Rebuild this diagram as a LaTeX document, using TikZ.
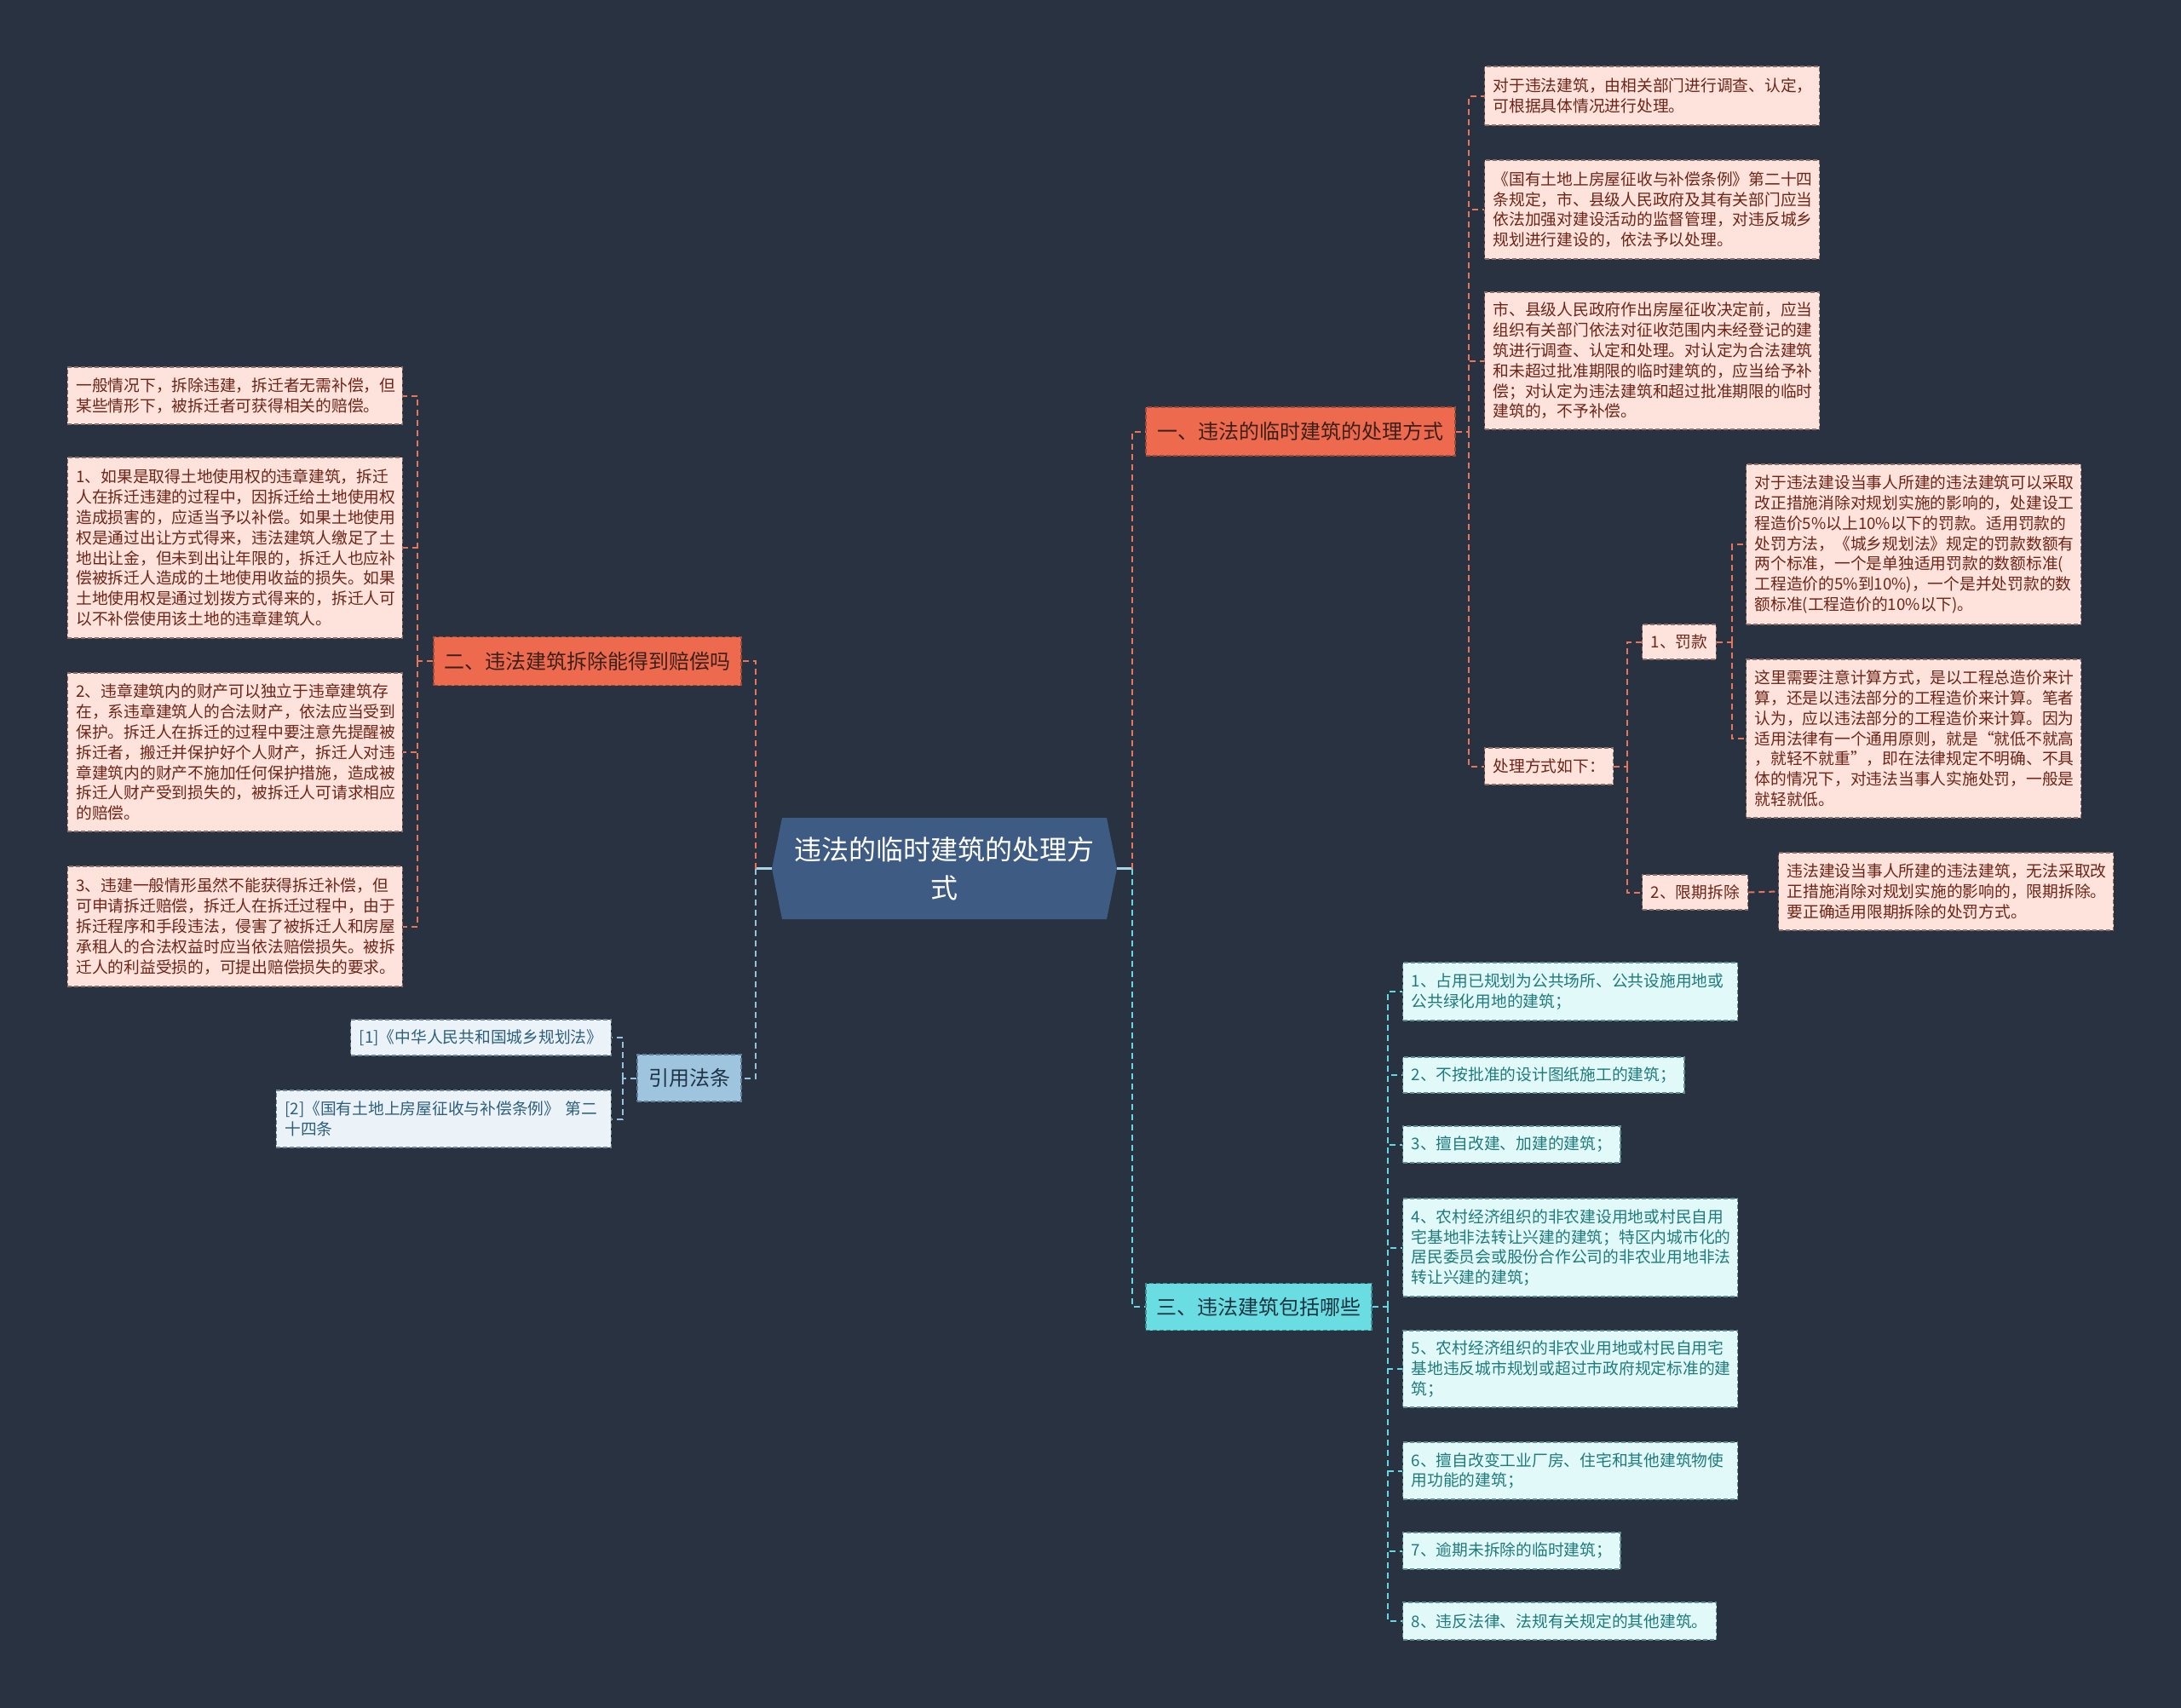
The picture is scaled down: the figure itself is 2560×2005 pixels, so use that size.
\documentclass[tikz,border=0pt]{standalone}
\usepackage{fontspec}
\setmainfont{Noto Sans CJK SC}
\definecolor{bg}{HTML}{293240}
\definecolor{rootfill}{HTML}{3E5B84}
\definecolor{brO}{HTML}{EE6A4E}
\definecolor{brOtext}{HTML}{3B2019}
\definecolor{brOdraw}{HTML}{9A4A36}
\definecolor{brC}{HTML}{6ADDE3}
\definecolor{brCtext}{HTML}{1E3440}
\definecolor{brCdraw}{HTML}{3E8E95}
\definecolor{brB}{HTML}{9EC4DE}
\definecolor{brBtext}{HTML}{1F3447}
\definecolor{brBdraw}{HTML}{5F7F96}
\definecolor{lfO}{HTML}{FDE3DB}
\definecolor{lfOtext}{HTML}{6E2418}
\definecolor{lfOdraw}{HTML}{8C6F68}
\definecolor{lfC}{HTML}{E2F9FA}
\definecolor{lfCtext}{HTML}{1F7A7B}
\definecolor{lfCdraw}{HTML}{5F8F92}
\definecolor{lfB}{HTML}{EBF3F8}
\definecolor{lfBtext}{HTML}{2D5F7D}
\definecolor{lfBdraw}{HTML}{6F8797}
\definecolor{lnO}{HTML}{E8745A}
\definecolor{lnC}{HTML}{64D7E1}
\definecolor{lnB}{HTML}{96C3DC}
\definecolor{lnRoot}{HTML}{A9D3E6}
\begin{document}
\begin{tikzpicture}[x=1pt,y=-1pt,
  base/.style={font=\fontsize{18.75pt}{23.8pt}\selectfont, inner xsep=10pt, inner ysep=10pt, align=left, line width=1.2pt, dash pattern=on 5pt off 3pt},
  wrap/.style={text width=373pt},
  leafO/.style={base, fill=lfO, draw=lfOdraw, text=lfOtext},
  leafC/.style={base, fill=lfC, draw=lfCdraw, text=lfCtext},
  leafB/.style={base, fill=lfB, draw=lfBdraw, text=lfBtext},
  brbase/.style={font=\fontsize{24pt}{30pt}\selectfont, inner xsep=12pt, inner ysep=8pt, align=center, line width=1.2pt, dash pattern=on 5pt off 3pt},
  branchO/.style={brbase, fill=brO, draw=brOdraw, text=brOtext},
  branchC/.style={brbase, fill=brC, draw=brCdraw, text=brCtext},
  branchB/.style={brbase, fill=brB, draw=brBdraw, text=brBtext},
  roottext/.style={font=\fontsize{32pt}{45pt}\selectfont, text=white, align=center, inner sep=0pt, minimum width=405pt, minimum height=119pt},
  conbase/.style={line width=2pt, dash pattern=on 7pt off 5pt},
  conO/.style={conbase, draw=lnO},
  conC/.style={conbase, draw=lnC},
  conB/.style={conbase, draw=lnB},
  rootlink/.style={line width=2.5pt, draw=lnRoot}
]
\fill[bg] (0,0) rectangle (2560,2005);
\useasboundingbox (0,0) rectangle (2560,2005);

% root
\fill[rootfill] (906,1019.5) -- (918,960) -- (1299,960) -- (1311,1019.5) -- (1299,1079) -- (918,1079) -- cycle;
\node[roottext] (root) at (1108.5,1019.5) {违法的临时建筑的处理方\\式};

% branches
\node[branchO, minimum width=363pt, minimum height=57pt] (n1) at (1526.5,506.5) {一、违法的临时建筑的处理方式};
\node[branchO, minimum width=361pt, minimum height=57pt] (n2) at (689.5,776) {二、违法建筑拆除能得到赔偿吗};
\node[branchB, minimum width=122pt, minimum height=55pt] (yin) at (809,1265.5) {引用法条};
\node[branchC, minimum width=265pt, minimum height=55pt] (n3) at (1477.5,1534) {三、违法建筑包括哪些};

% branch 1 children
\node[leafO, wrap, anchor=west, minimum height=69pt] (c1) at (1742,112.5) {对于违法建筑，由相关部门进行调查、认定，\\可根据具体情况进行处理。};
\node[leafO, wrap, anchor=west, minimum height=116pt] (c2) at (1742,246) {《国有土地上房屋征收与补偿条例》第二十四\\条规定，市、县级人民政府及其有关部门应当\\依法加强对建设活动的监督管理，对违反城乡\\规划进行建设的，依法予以处理。};
\node[leafO, wrap, anchor=west, minimum height=161pt] (c3) at (1742,423.5) {市、县级人民政府作出房屋征收决定前，应当\\组织有关部门依法对征收范围内未经登记的建\\筑进行调查、认定和处理。对认定为合法建筑\\和未超过批准期限的临时建筑的，应当给予补\\偿；对认定为违法建筑和超过批准期限的临时\\建筑的，不予补偿。};
\node[leafO, anchor=west, minimum height=43pt] (c4) at (1742,899.5) {处理方式如下：};
\node[leafO, anchor=west, minimum height=41pt] (f1) at (1927,753.5) {1、罚款};
\node[leafO, anchor=west, minimum height=41pt] (f2) at (1927,1047.5) {2、限期拆除};
\node[leafO, wrap, anchor=west, minimum height=188pt] (g1) at (2049,639) {对于违法建设当事人所建的违法建筑可以采取\\改正措施消除对规划实施的影响的，处建设工\\程造价5\%以上10\%以下的罚款。适用罚款的\\处罚方法，《城乡规划法》规定的罚款数额有\\两个标准，一个是单独适用罚款的数额标准(\\工程造价的5\%到10\%)，一个是并处罚款的数\\额标准(工程造价的10\%以下)。};
\node[leafO, wrap, anchor=west, minimum height=186pt] (g2) at (2049,867) {这里需要注意计算方式，是以工程总造价来计\\算，还是以违法部分的工程造价来计算。笔者\\认为，应以违法部分的工程造价来计算。因为\\适用法律有一个通用原则，就是“就低不就高\\，就轻不就重”，即在法律规定不明确、不具\\体的情况下，对违法当事人实施处罚，一般是\\就轻就低。};
\node[leafO, wrap, anchor=west, minimum height=91pt] (h1) at (2087,1046.5) {违法建设当事人所建的违法建筑，无法采取改\\正措施消除对规划实施的影响的，限期拆除。\\要正确适用限期拆除的处罚方式。};

% branch 2 children
\node[leafO, wrap, anchor=east, minimum height=67pt] (L1) at (473,464.5) {一般情况下，拆除违建，拆迁者无需补偿，但\\某些情形下，被拆迁者可获得相关的赔偿。};
\node[leafO, wrap, anchor=east, minimum height=212pt] (L2) at (473,643) {1、如果是取得土地使用权的违章建筑，拆迁\\人在拆迁违建的过程中，因拆迁给土地使用权\\造成损害的，应适当予以补偿。如果土地使用\\权是通过出让方式得来，违法建筑人缴足了土\\地出让金，但未到出让年限的，拆迁人也应补\\偿被拆迁人造成的土地使用收益的损失。如果\\土地使用权是通过划拨方式得来的，拆迁人可\\以不补偿使用该土地的违章建筑人。};
\node[leafO, wrap, anchor=east, minimum height=186pt] (L3) at (473,883) {2、违章建筑内的财产可以独立于违章建筑存\\在，系违章建筑人的合法财产，依法应当受到\\保护。拆迁人在拆迁的过程中要注意先提醒被\\拆迁者，搬迁并保护好个人财产，拆迁人对违\\章建筑内的财产不施加任何保护措施，造成被\\拆迁人财产受到损失的，被拆迁人可请求相应\\的赔偿。};
\node[leafO, wrap, anchor=east, minimum height=141pt] (L4) at (473,1087.5) {3、违建一般情形虽然不能获得拆迁补偿，但\\可申请拆迁赔偿，拆迁人在拆迁过程中，由于\\拆迁程序和手段违法，侵害了被拆迁人和房屋\\承租人的合法权益时应当依法赔偿损失。被拆\\迁人的利益受损的，可提出赔偿损失的要求。};

% references
\node[leafB, anchor=east, minimum height=42pt] (R1) at (718,1218) {[1]《中华人民共和国城乡规划法》};
\node[leafB, wrap, anchor=east, minimum height=67pt] (R2) at (718,1313.5) {[2]《国有土地上房屋征收与补偿条例》 第二\\十四条};

% branch 3 children
\node[leafC, wrap, anchor=west, minimum height=68pt] (T1) at (1646,1164) {1、占用已规划为公共场所、公共设施用地或\\公共绿化用地的建筑；};
\node[leafC, anchor=west, minimum height=42pt] (T2) at (1646,1262) {2、不按批准的设计图纸施工的建筑；};
\node[leafC, anchor=west, minimum height=43pt] (T3) at (1646,1343.5) {3、擅自改建、加建的建筑；};
\node[leafC, wrap, anchor=west, minimum height=115pt] (T4) at (1646,1464.5) {4、农村经济组织的非农建设用地或村民自用\\宅基地非法转让兴建的建筑；特区内城市化的\\居民委员会或股份合作公司的非农业用地非法\\转让兴建的建筑；};
\node[leafC, wrap, anchor=west, minimum height=90pt] (T5) at (1646,1607) {5、农村经济组织的非农业用地或村民自用宅\\基地违反城市规划或超过市政府规定标准的建\\筑；};
\node[leafC, wrap, anchor=west, minimum height=67pt] (T6) at (1646,1726.5) {6、擅自改变工业厂房、住宅和其他建筑物使\\用功能的建筑；};
\node[leafC, anchor=west, minimum height=43pt] (T7) at (1646,1820.5) {7、逾期未拆除的临时建筑；};
\node[leafC, anchor=west, minimum height=44pt] (T8) at (1646,1903) {8、违反法律、法规有关规定的其他建筑。};

% junctions
\coordinate (jl) at (887,1019.5);
\coordinate (jr) at (1329,1019.5);
\coordinate (j1) at (1724,506.5);
\coordinate (j4) at (1910,899.5);
\coordinate (jf1) at (2033,753.5);
\coordinate (j2) at (490,776);
\coordinate (jy) at (731,1265.5);
\coordinate (j3) at (1629,1534);

% root links
\draw[rootlink] (root.west) -- (jl);
\draw[rootlink] (root.east) -- (jr);
\draw[conO] (jl) |- (n2.east);
\draw[conB] (jl) |- (yin.east);
\draw[conO] (jr) |- (n1.west);
\draw[conC] (jr) |- (n3.west);

% branch 1
\draw[conO] (n1.east) -- (j1);
\foreach \c in {c1,c2,c3,c4} \draw[conO] (j1) |- (\c.west);
\draw[conO] (c4.east) -- (j4);
\foreach \c in {f1,f2} \draw[conO] (j4) |- (\c.west);
\draw[conO] (f1.east) -- (jf1);
\foreach \c in {g1,g2} \draw[conO] (jf1) |- (\c.west);
\draw[conO] (f2.east) -- (h1.west);

% branch 2
\draw[conO] (n2.west) -- (j2);
\foreach \c in {L1,L2,L3,L4} \draw[conO] (j2) |- (\c.east);

% references
\draw[conB] (yin.west) -- (jy);
\foreach \c in {R1,R2} \draw[conB] (jy) |- (\c.east);

% branch 3
\draw[conC] (n3.east) -- (j3);
\foreach \c in {T1,T2,T3,T4,T5,T6,T7,T8} \draw[conC] (j3) |- (\c.west);
\end{tikzpicture}
\end{document}
